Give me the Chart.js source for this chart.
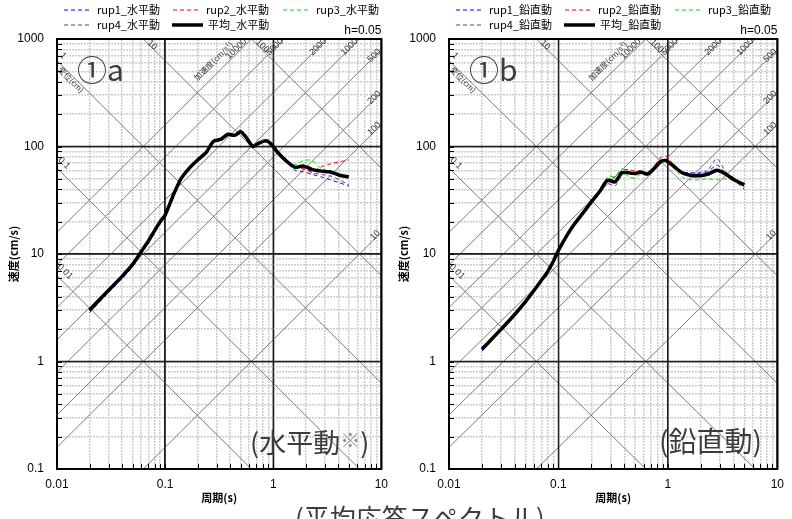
<!DOCTYPE html>
<html><head><meta charset="utf-8">
<script src="https://cdn.jsdelivr.net/npm/chart.js@4/dist/chart.umd.min.js"></script>
<style>
html,body{margin:0;padding:0;background:#fff;}
#wrap{position:relative;width:792px;height:519px;overflow:hidden;font-family:"Noto Sans CJK JP",sans-serif;}
canvas{position:absolute;top:0;}
.big{position:absolute;color:#3c3c3c;white-space:nowrap;line-height:1;font-family:"Noto Sans CJK JP",sans-serif;}
</style></head><body>
<div id="wrap">
<canvas id="cA" width="396" height="519" style="left:0;width:396px;height:519px"></canvas>
<canvas id="cB" width="400" height="519" style="left:392px;width:400px;height:519px"></canvas>
<div class="big" style="left:77px;top:53px;font-size:30px">①a</div>
<div class="big" style="left:469px;top:53px;font-size:30px">①b</div>
<div class="big" style="left:250px;top:428px;font-size:27px">(水平動<span style="font-size:20px;color:#8a8a8a;vertical-align:5px">※</span>)</div>
<div class="big" style="left:659px;top:426px;font-size:28px">(鉛直動)</div>
<div class="big" style="left:295px;top:504px;font-size:26px">(平均応答スペクトル)</div>
</div>
<script>
// ---- data ----
const periods = [0.02,0.03,0.04,0.05,0.06,0.07,0.08,0.09,0.1,0.12,0.14,0.17,0.2,0.24,0.28,0.33,0.38,0.44,0.5,0.56,0.65,0.72,0.85,0.95,1.1,1.35,1.6,1.9,2.3,2.8,3.4,4.1,5.0];

const hRup1 = [2.85,4.4,5.9,7.6,10.0,12.6,15.8,19,22,34,48,62,73,86,108,115,126,124,133,119,98,105,112,104,86,70,60,58,55,52,49,46,43];
const hRup2 = [3.05,4.7,6.3,8.2,10.8,13.5,17,20.5,24,37,51,65,76,90,113,119,131,129,144,126,102,106,112,105,88,72,63,62,59,65,69,72,75];
const hRup3 = [3.1,4.7,6.3,8.1,10.6,13.4,16.8,20.5,23.5,36.5,51,65,75,89,113,116,126,128,134,121,100,106,112,106,89,74,68,74,74,62,58,55,53];
const hRup4 = [2.95,4.5,6.1,7.9,10.3,13,16.3,19.5,22.5,35,49,63,74,87,110,116,128,126,136,122,99,105,112,106,88,71,63,62,57,55,53,49,44];
const hMean = [3.0,4.6,6.2,8.0,10.5,13.2,16.5,20,23,36,50,64,75,88,112,117,130,127,137,122,100,106,113,106,88,72,64,66,61,59,58,54,52];

const vRup1 = [1.25,1.95,2.7,3.5,4.5,5.6,6.8,8.4,10.5,14.6,18.5,24,30,38,47,46,56,56,55,57,56,59,71,73,67,58,57,57,58,67,56,48,40];
const vRup2 = [1.32,2.05,2.85,3.7,4.75,5.9,7.1,8.9,11.2,15.5,19.6,25.5,32,40,49,52,60,61,59,59,57,62,78,82,70,57,53,52,54,58,57,50,45];
const vRup3 = [1.3,2.0,2.8,3.65,4.7,5.8,7.0,8.7,10.9,15.2,19.3,25,31,39,52,53,62,52,51,55,54,58,70,72,64,52,49,49,50,49,50,48,46];
const vRup4 = [1.28,1.98,2.72,3.55,4.55,5.65,6.85,8.5,10.6,14.8,18.8,24.2,30,38,45,43,55,56,55,57,56,59,72,73,66,56,55,56,60,77,58,50,42];
const vMean = [1.3,2.0,2.75,3.6,4.6,5.7,6.9,8.6,10.8,15,19,24.5,30.5,38.5,48.5,47,57,57,56,58,55.5,60,72,74,67,57,54,53.5,55,60,55,48.5,44];

const hLabels = ['rup1_水平動','rup2_水平動','rup3_水平動','rup4_水平動','平均_水平動'];
const vLabels = ['rup1_鉛直動','rup2_鉛直動','rup3_鉛直動','rup4_鉛直動','平均_鉛直動'];

const periodRange = [0.01, 10];
const velocityRange = [0.1, 1000];
const periodTickLabels = ['0.01','0.1','1','10'];
const velocityTickLabels = ['0.1','1','10','100','1000'];
const dispLevels = [0.01, 0.1, 1, 10, 100];                 // cm
const accLevels = [10, 100, 200, 500, 1000, 2000, 5000, 10000]; // cm/s2
const dampingText = 'h=0.05';

// diagonal labels: text, family, level, edge
const diagLabels = [
  ['1','D',1,'left'], ['変位(cm)','D',1,'left'], ['0.1','D',0.1,'left'], ['0.01','D',0.01,'left'],
  ['10','D',10,'top'], ['100','D',100,'top'],
  ['加速度(cm/s²)','A',10000,'top'], ['10000','A',10000,'top'], ['5000','A',5000,'top'],
  ['2000','A',2000,'top'], ['1000','A',1000,'top'],
  ['500','A',500,'right'], ['200','A',200,'right'], ['100','A',100,'right'], ['10','A',10,'right']
];
// ---- styles ----
const labelOffsets = [[6,-5],[14,19],[7,-5],[8,-4],[9,6],[11,7],[-38,22],[-15,10],[-9,8],[-9,8],[-10,8],[-7,6],[-7,5],[-7,4],[-6,3]];
const seriesColors = ['#0000ff','#ff0000','#00e000','#7030a0','#000000'];
const TWO_PI = 2*Math.PI;

const isDecade = v => Math.abs(Math.log10(v) - Math.round(Math.log10(v))) < 1e-6;
function logTicks(min, max){
  const out=[];
  for(let e=Math.round(Math.log10(min)); e<Math.round(Math.log10(max)); e++){
    for(let k=1;k<10;k++) out.push({value:Number((k*Math.pow(10,e)).toPrecision(6))});
  }
  out.push({value:max});
  return out;
}

const tripartite = {
  id:'tripartite',
  beforeDatasetsDraw(chart){
    const {ctx, chartArea:a, scales:{x,y}} = chart;
    ctx.save();
    ctx.beginPath(); ctx.rect(a.left,a.top,a.right-a.left,a.bottom-a.top); ctx.clip();
    ctx.strokeStyle='#7c7c7c'; ctx.lineWidth=1; ctx.setLineDash([]);
    const T0=0.001, T1=100;
    dispLevels.forEach(d=>{
      ctx.beginPath();
      ctx.moveTo(x.getPixelForValue(T0), y.getPixelForValue(TWO_PI*d/T0));
      ctx.lineTo(x.getPixelForValue(T1), y.getPixelForValue(TWO_PI*d/T1));
      ctx.stroke();
    });
    accLevels.forEach(A=>{
      ctx.beginPath();
      ctx.moveTo(x.getPixelForValue(T0), y.getPixelForValue(A*T0/TWO_PI));
      ctx.lineTo(x.getPixelForValue(T1), y.getPixelForValue(A*T1/TWO_PI));
      ctx.stroke();
    });
    // decade grid lines on top of minor grid
    ctx.strokeStyle='#1e1e1e'; ctx.lineWidth=1.3;
    x.ticks.filter(t=>isDecade(t.value)).forEach(t=>{
      const p=x.getPixelForValue(t.value);
      ctx.beginPath(); ctx.moveTo(p,a.top); ctx.lineTo(p,a.bottom); ctx.stroke();
    });
    y.ticks.filter(t=>isDecade(t.value)).forEach(t=>{
      const p=y.getPixelForValue(t.value);
      ctx.beginPath(); ctx.moveTo(a.left,p); ctx.lineTo(a.right,p); ctx.stroke();
    });
    ctx.restore();
    // labels
    ctx.save();
    ctx.fillStyle='#333'; ctx.textAlign='center'; ctx.textBaseline='middle';
    const Tmin=periodRange[0], Tmax=periodRange[1], Vmax=velocityRange[1];
    diagLabels.forEach((L,i)=>{
      const [text,fam,lev,edge]=L;
      let px,py;
      if(fam==='D'){
        if(edge==='left'){px=a.left; py=y.getPixelForValue(TWO_PI*lev/Tmin);}
        else {px=x.getPixelForValue(TWO_PI*lev/Vmax); py=a.top;}
      } else {
        if(edge==='top'){px=x.getPixelForValue(TWO_PI*Vmax/lev); py=a.top;}
        else {px=a.right; py=y.getPixelForValue(lev*Tmax/TWO_PI);}
      }
      const [dx,dy]=labelOffsets[i];
      ctx.save();
      ctx.translate(px+dx, py+dy);
      ctx.rotate(fam==='D'? Math.PI/4 : -Math.PI/4);
      ctx.font = /[^\x00-\x7f]/.test(text) ? '8px "Noto Sans CJK JP"' : '9px "Liberation Sans"';
      ctx.fillText(text,0,0);
      ctx.restore();
    });
    ctx.restore();
  },
  afterDraw(chart, args, opts){
    const {ctx, chartArea:a, scales:{x,y}} = chart;
    ctx.save();
    // inward minor ticks
    ctx.strokeStyle='#000'; ctx.lineWidth=1;
    y.ticks.forEach(t=>{ const p=Math.round(y.getPixelForValue(t.value))+0.5; ctx.beginPath(); ctx.moveTo(a.left,p); ctx.lineTo(a.left+5,p); ctx.stroke();});
    x.ticks.forEach(t=>{ const p=Math.round(x.getPixelForValue(t.value))+0.5; ctx.beginPath(); ctx.moveTo(p,a.bottom); ctx.lineTo(p,a.bottom-5); ctx.stroke();});
    // frame
    ctx.lineWidth=2; ctx.strokeStyle='#000';
    ctx.strokeRect(a.left,a.top,a.right-a.left,a.bottom-a.top);
    // damping text
    ctx.fillStyle='#000'; ctx.font='12px "Liberation Sans"'; ctx.textAlign='right'; ctx.textBaseline='middle';
    ctx.fillText(dampingText, a.right, a.top-8);
    // legend
    const slots=[[64,10],[173,10],[283,10],[64,25],[172,25]];
    chart.data.datasets.forEach((ds,i)=>{
      const [sx,sy]=slots[i];
      const w = i===4?31:28;
      ctx.strokeStyle=ds.borderColor; ctx.lineWidth=ds.borderWidth; ctx.setLineDash(ds.borderDash||[]);
      ctx.beginPath(); ctx.moveTo(sx,sy); ctx.lineTo(sx+w,sy); ctx.stroke();
      ctx.setLineDash([]);
      ctx.fillStyle='#000'; ctx.font='11px "Noto Sans CJK JP"'; ctx.textAlign='left';
      ctx.fillText(ds.label, sx+w+5, sy);
    });
    ctx.restore();
  }
};

function makeChart(id, labels, series, padRight, titlePad){
  const datasets = series.map((vals,i)=>({
    label: labels[i],
    data: periods.map((t,j)=>({x:t,y:vals[j]})),
    borderColor: seriesColors[i],
    borderWidth: i===4?3.5:1,
    borderDash: i===4?[]:[4,3],
    pointRadius:0, tension:0.25, fill:false,
    order: i===4?-1:0
  }));
  const gridColor = c=>isDecade(c.tick.value)?'#1e1e1e':'#cdcdcd';
  const gridWidth = c=>isDecade(c.tick.value)?1.3:1.5;
  return new Chart(document.getElementById(id), {
    type:'line',
    data:{datasets},
    options:{
      responsive:false, animation:false,
      layout:{padding:{left:0,right:padRight,top:39,bottom:0}},
      plugins:{legend:{display:false}, tooltip:{enabled:false}},
      scales:{
        x:{type:'logarithmic', min:periodRange[0], max:periodRange[1],
          afterBuildTicks:s=>{s.ticks=logTicks(periodRange[0],periodRange[1]);},
          afterFit:s=>{s.height=50;},
          grid:{drawTicks:false, color:gridColor, lineWidth:gridWidth},
          border:{display:false, dash:c=>isDecade(c.tick.value)?[]:[2,1]},
          ticks:{autoSkip:false, maxRotation:0, padding:8, color:'#000', font:{size:12,family:'"Liberation Sans"'},
            callback:v=>{ if(!isDecade(v)) return ''; const s=periodTickLabels.find(l=>Math.abs(Number(l)-v)<1e-9); return s||''; }},
          title:{display:true, text:'周期(s)', color:'#000', font:{size:11,weight:'bold',family:'"Noto Sans CJK JP"'}, padding:{top:0,bottom:15}}
        },
        y:{type:'logarithmic', min:velocityRange[0], max:velocityRange[1],
          afterBuildTicks:s=>{s.ticks=logTicks(velocityRange[0],velocityRange[1]);},
          afterFit:s=>{s.width=57;},
          grid:{drawTicks:false, color:gridColor, lineWidth:gridWidth},
          border:{display:false, dash:c=>isDecade(c.tick.value)?[]:[2,1]},
          ticks:{autoSkip:false, padding:13, color:'#000', font:{size:12,family:'"Liberation Sans"'},
            callback:v=>{ if(!isDecade(v)) return ''; const s=velocityTickLabels.find(l=>Math.abs(Number(l)-v)<1e-9); return s||''; }},
          title:{display:true, text:'速度(cm/s)', color:'#000', font:{size:11,weight:'bold',family:'"Noto Sans CJK JP"'}, padding:{top:titlePad,bottom:0}}
        }
      }
    },
    plugins:[tripartite]
  });
}

makeChart('cA', hLabels, [hRup1,hRup2,hRup3,hRup4,hMean], 11, 7.4);
makeChart('cB', vLabels, [vRup1,vRup2,vRup3,vRup4,vMean], 14, 5.4);
</script>
</body></html>
